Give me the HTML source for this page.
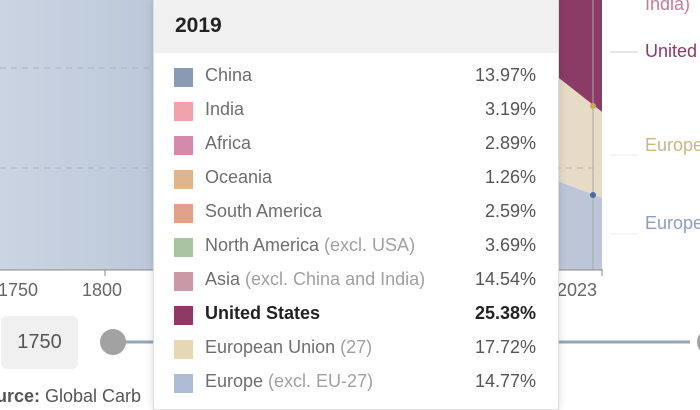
<!DOCTYPE html>
<html><head><style>
body{margin:0;width:700px;height:400px;overflow:hidden;background:#fff;font-family:"Liberation Sans",sans-serif;position:relative}
.a{position:absolute}
.row{position:absolute;left:174px;width:362px;height:24px;font-size:18px;color:#6e6e6e}
.row .sw{position:absolute;left:0;top:3px;width:19px;height:19px}
.row .n{position:absolute;left:31px;top:0}
.row .v{position:absolute;right:0;top:0;color:#555}
.g{color:#a0a0a0}
</style></head><body>
<svg class="a" style="left:0;top:0" width="700" height="400">
<defs><linearGradient id="bg" x1="0" x2="1"><stop offset="0" stop-color="#cbd4e2"/><stop offset="1" stop-color="#bcc8da"/></linearGradient></defs>
<rect x="0" y="0" width="155" height="270" fill="url(#bg)"/>
<line x1="0" y1="68" x2="153" y2="68" stroke="#a9b2bf" stroke-dasharray="6,5"/>
<line x1="0" y1="168" x2="153" y2="168" stroke="#a9b2bf" stroke-dasharray="6,5"/>
<polygon points="555,0 602,0 602,112 555,75" fill="#8c3b66"/>
<polygon points="555,75 602,112 602,198 555,180" fill="#e6dbc7"/>
<polygon points="555,180 602,198 602,270 555,270" fill="#bcc6d8"/>
<line x1="555" y1="168" x2="593" y2="168" stroke="#b8b2a6" stroke-dasharray="6,5"/>
<line x1="593" y1="0" x2="593" y2="270" stroke="#a8a8a8"/>
<circle cx="593" cy="106" r="3" fill="#c9a85e"/>
<circle cx="593" cy="195" r="3" fill="#4a6aa0"/>
<line x1="0" y1="270" x2="603" y2="270" stroke="#888"/>
<line x1="105" y1="270" x2="105" y2="276" stroke="#888"/>
<line x1="602" y1="270" x2="602" y2="276" stroke="#888"/>
<line x1="610" y1="52" x2="638" y2="52" stroke="#ccc"/>
<line x1="610" y1="155" x2="638" y2="155" stroke="#eee"/>
<line x1="610" y1="234" x2="638" y2="234" stroke="#eee"/>
<line x1="125" y1="342" x2="690" y2="342" stroke="#94a6ba" stroke-width="3"/>
<circle cx="113" cy="342" r="13" fill="#a2a2a2"/>
<circle cx="710" cy="342" r="13" fill="#a2a2a2"/>
</svg>
<div class="a" style="left:-2px;top:280px;font-size:18px;color:#666">1750</div>
<div class="a" style="left:82px;top:280px;font-size:18px;color:#666">1800</div>
<div class="a" style="left:557px;top:280px;font-size:18px;color:#666">2023</div>
<div class="a" style="left:1px;top:316px;width:77px;height:53px;background:#f0f0f0;border-radius:6px;font-size:20px;color:#555;line-height:53px;text-align:center">1750</div>
<div class="a" style="left:-4px;top:386px;font-size:18px;color:#555"><b>urce:</b> Global Carb</div>
<div class="a" style="left:645px;top:-6px;font-size:18px;color:#c87a96">India)</div>
<div class="a" style="left:645px;top:41px;font-size:18px;color:#8c3b66">United</div>
<div class="a" style="left:645px;top:135px;font-size:18px;color:#c9b58a">Europe</div>
<div class="a" style="left:645px;top:213px;font-size:18px;color:#8a9dc2">Europe</div>
<div class="a" style="left:153px;top:-2px;width:404px;height:410px;background:#fff;border:1px solid #ddd;box-shadow:0 0 8px rgba(0,0,0,.15)">
<div style="height:54px;background:#f0f0f0;font-size:21px;font-weight:bold;color:#222;line-height:54px;padding-left:21px">2019</div>
</div>
<div class="row" style="top:65px"><div class="sw" style="background:#8a9ab2"></div><span class="n">China</span><span class="v">13.97%</span></div>
<div class="row" style="top:99px"><div class="sw" style="background:#f0a3aa"></div><span class="n">India</span><span class="v">3.19%</span></div>
<div class="row" style="top:133px"><div class="sw" style="background:#d48aab"></div><span class="n">Africa</span><span class="v">2.89%</span></div>
<div class="row" style="top:167px"><div class="sw" style="background:#e0b48e"></div><span class="n">Oceania</span><span class="v">1.26%</span></div>
<div class="row" style="top:201px"><div class="sw" style="background:#e0a08a"></div><span class="n">South America</span><span class="v">2.59%</span></div>
<div class="row" style="top:235px"><div class="sw" style="background:#a9c4a0"></div><span class="n">North America <span class="g">(excl. USA)</span></span><span class="v">3.69%</span></div>
<div class="row" style="top:269px"><div class="sw" style="background:#c99aa6"></div><span class="n">Asia <span class="g">(excl. China and India)</span></span><span class="v">14.54%</span></div>
<div class="row" style="top:303px;color:#222;font-weight:bold"><div class="sw" style="background:#8c3b66"></div><span class="n">United States</span><span class="v" style="color:#222">25.38%</span></div>
<div class="row" style="top:337px"><div class="sw" style="background:#e6d8b4"></div><span class="n">European Union <span class="g">(27)</span></span><span class="v">17.72%</span></div>
<div class="row" style="top:371px"><div class="sw" style="background:#aebbd4"></div><span class="n">Europe <span class="g">(excl. EU-27)</span></span><span class="v">14.77%</span></div>
</body></html>
